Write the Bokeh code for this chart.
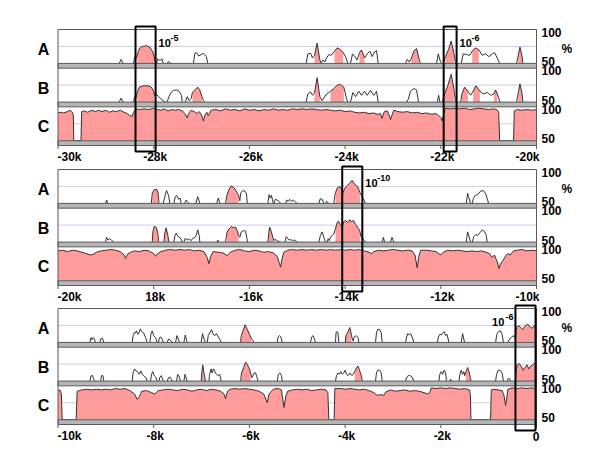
import math
from bokeh.plotting import figure
from bokeh.models import Range1d, Label
from bokeh.layouts import column
from bokeh.embed import file_html
from bokeh.resources import INLINE

# ---------------- data ----------------
TRACKS = ["A", "B", "C"]
PANEL_STARTS = [-30000, -20000, -10000]
PANEL_ENDS = [-20000, -10000, 0]

P1_TICKS = [-30000, -28000, -26000, -24000, -22000, -20000]
P1_TICK_LABELS = ["-30k", "-28k", "-26k", "-24k", "-22k", "-20k"]
P2_TICKS = [-20000, -18000, -16000, -14000, -12000, -10000]
P2_TICK_LABELS = ["-20k", "18k", "-16k", "-14k", "-12k", "-10k"]
P3_TICKS = [-10000, -8000, -6000, -4000, -2000, 0]
P3_TICK_LABELS = ["-10k", "-8k", "-6k", "-4k", "-2k", "0"]

SCALE_TOP = "100"
SCALE_BOTTOM = "50"
UNIT_LABEL = "%"

P1_BOX_START = [-28380, -21940]
P1_BOX_END = [-27960, -21670]
P1_BOX_EXP = ["-5", "-6"]
P2_BOX_START = [-14060]
P2_BOX_END = [-13640]
P2_BOX_EXP = ["-10"]
P3_BOX_START = [-440]
P3_BOX_END = [-20]
P3_BOX_EXP = ["-6"]

N = None
P1_A = [
    (-28720, 50), (-28680, 56), (-28640, 50), N,
    (-28420, 50), (-28400, 59), (-28370, 57), (-28345, 62), (-28300, 72), (-28240, 75), (-28150, 76), (-28080, 74), (-28020, 67), (-27983, 58), (-27960, 50), N,
    (-27940, 50), (-27910, 57), (-27870, 54), (-27830, 57), (-27800, 50), N,
    (-27720, 50), (-27690, 53), (-27650, 50), N,
    (-27170, 50), (-27140, 65), (-27100, 66), (-27060, 61), (-27010, 63), (-26960, 65), (-26900, 60), (-26870, 50), N,
    (-24814, 50), (-24779, 64), (-24723, 65), (-24681, 58), (-24639, 62), (-24584, 80), (-24528, 55), (-24500, 50), (-24465, 55), (-24423, 52), (-24388, 58), (-24340, 63), (-24291, 62), (-24221, 68), (-24165, 73), (-24110, 71), (-24040, 66), (-23991, 60), (-23943, 50), N,
    (-23887, 50), (-23845, 64), (-23796, 60), (-23748, 55), (-23699, 66), (-23657, 70), (-23594, 58), (-23539, 64), (-23483, 68), (-23434, 60), (-23385, 67), (-23343, 69), (-23308, 50), N,
    (-22737, 50), (-22702, 56), (-22660, 52), (-22619, 57), (-22563, 68), (-22507, 72), (-22452, 56), (-22424, 50), N,
    (-22088, 50), (-22053, 64), (-22005, 52), (-21970, 50), N,
    (-21950, 50), (-21901, 60), (-21831, 72), (-21783, 83), (-21727, 65), (-21692, 50), N,
    (-21574, 50), (-21532, 64), (-21463, 63), (-21393, 62), (-21344, 68), (-21274, 73), (-21205, 70), (-21135, 62), (-21065, 64), (-20995, 60), (-20925, 64), (-20876, 66), (-20820, 58), (-20771, 50), N,
    (-20416, 50), (-20381, 62), (-20346, 74), (-20305, 62), (-20284, 50),
]
P1_A_FILL = [(-28345, -27983), (-24639, -24528), (-24221, -24040), (-23699, -23594),
             (-22619, -22452), (-21901, -21727), (-21344, -21205), (-20381, -20305)]

P1_B = [
    (-28720, 50), (-28680, 56), (-28640, 50), N,
    (-28420, 50), (-28400, 58), (-28370, 56), (-28345, 64), (-28300, 72), (-28220, 74), (-28120, 74), (-28050, 72), (-28000, 66), (-27983, 60), (-27950, 62), (-27900, 58), (-27850, 55), (-27800, 52), (-27753, 50), N,
    (-27720, 50), (-27690, 56), (-27650, 63), (-27590, 67), (-27530, 68), (-27470, 66), (-27420, 60), (-27404, 50), N,
    (-27340, 50), (-27300, 58), (-27260, 52), (-27220, 55), (-27190, 64), (-27140, 68), (-27080, 72), (-27040, 68), (-26990, 58), (-26960, 52), (-26940, 50), N,
    (-24814, 50), (-24779, 62), (-24723, 65), (-24681, 60), (-24639, 64), (-24584, 86), (-24528, 58), (-24479, 52), (-24444, 56), (-24388, 62), (-24340, 64), (-24305, 66), (-24235, 70), (-24165, 75), (-24096, 76), (-24026, 72), (-23970, 55), (-23943, 50), N,
    (-23887, 50), (-23838, 64), (-23782, 58), (-23713, 66), (-23657, 60), (-23594, 66), (-23539, 60), (-23469, 67), (-23399, 60), (-23343, 66), (-23308, 50), N,
    (-22716, 50), (-22681, 54), (-22632, 66), (-22563, 70), (-22507, 68), (-22465, 50), N,
    (-22074, 50), (-22046, 60), (-22018, 50), N,
    (-21970, 50), (-21921, 62), (-21851, 75), (-21782, 91), (-21727, 70), (-21692, 50), N,
    (-21586, 50), (-21558, 62), (-21503, 72), (-21433, 66), (-21378, 60), (-21323, 66), (-21266, 74), (-21183, 66), (-21113, 62), (-21030, 64), (-20959, 60), (-20889, 62), (-20857, 68), (-20820, 62), (-20764, 50), N,
    (-20416, 50), (-20381, 64), (-20346, 77), (-20305, 64), (-20284, 50),
]
P1_B_FILL = [(-28345, -27983), (-27190, -26990), (-24639, -24528), (-24305, -24026),
             (-21921, -21727), (-21558, -21433), (-21323, -21183), (-20889, -20820), (-20381, -20305)]

P1_C = [
    (-30000, 91), (-29950, 92), (-29880, 91), (-29800, 93), (-29740, 95), (-29700, 92), (-29680, 88), (-29670, 50),
    (-29520, 50), (-29505, 93), (-29450, 94), (-29380, 92), (-29300, 95), (-29220, 93), (-29150, 95), (-29080, 93),
    (-29000, 95), (-28930, 92), (-28850, 94), (-28780, 93), (-28700, 95), (-28620, 92), (-28550, 90), (-28500, 87),
    (-28450, 86), (-28420, 92), (-28380, 97), (-28300, 96), (-28200, 97), (-28100, 96), (-28000, 98), (-27920, 96),
    (-27850, 95), (-27780, 97), (-27700, 94), (-27620, 96), (-27550, 95), (-27480, 96), (-27400, 94), (-27350, 90),
    (-27300, 84), (-27270, 90), (-27220, 95), (-27150, 93), (-27100, 90), (-27050, 93), (-27000, 88), (-26960, 79),
    (-26930, 88), (-26890, 92), (-26860, 87), (-26800, 95), (-26700, 96), (-26600, 94), (-26500, 97), (-26400, 95),
    (-26300, 96), (-26200, 94), (-26100, 97), (-26000, 95), (-25900, 96), (-25800, 94), (-25700, 96), (-25600, 95),
    (-25500, 97), (-25400, 95), (-25300, 96), (-25200, 95), (-25100, 97), (-25000, 96), (-24900, 97), (-24800, 96),
    (-24700, 97), (-24600, 96), (-24500, 95), (-24400, 96), (-24300, 95), (-24200, 94), (-24100, 95), (-24000, 93),
    (-23900, 94), (-23800, 92), (-23700, 91), (-23600, 92), (-23500, 90), (-23400, 91), (-23330, 89), (-23260, 90),
    (-23230, 83), (-23180, 93), (-23120, 94), (-23080, 88), (-23050, 81), (-23010, 90), (-22980, 95), (-22900, 93),
    (-22800, 92), (-22700, 93), (-22600, 91), (-22500, 92), (-22400, 90), (-22300, 91), (-22200, 89), (-22100, 90),
    (-22040, 87), (-22000, 84), (-21970, 79), (-21940, 90), (-21900, 98), (-21800, 97), (-21700, 98), (-21600, 97),
    (-21500, 98), (-21400, 96), (-21300, 97), (-21200, 98), (-21100, 97), (-21000, 96), (-20900, 97), (-20830, 96),
    (-20790, 92), (-20770, 50), (-20480, 50), (-20465, 94), (-20400, 96), (-20300, 95), (-20200, 96), (-20100, 95),
    (-20000, 96),
]

P2_A = [
    (-19007, 50), (-18983, 55), (-18958, 50), N,
    (-18050, 50), (-18030, 65), (-17990, 70), (-17940, 71), (-17910, 66), (-17890, 50), N,
    (-17801, 50), (-17760, 62), (-17732, 69), (-17690, 62), (-17662, 50), N,
    (-17578, 50), (-17550, 60), (-17522, 62), (-17480, 56), (-17450, 58), (-17425, 50), N,
    (-17355, 50), (-17320, 55), (-17290, 52), (-17257, 50), N,
    (-17118, 50), (-17080, 60), (-17035, 50), N,
    (-16686, 50), (-16650, 58), (-16616, 50), N,
    (-16500, 50), (-16470, 62), (-16430, 70), (-16380, 76), (-16340, 74), (-16300, 71), (-16260, 66), (-16225, 62), (-16200, 54), (-16180, 66), (-16130, 69), (-16090, 68), (-16060, 64), (-16045, 50), N,
    (-15613, 50), (-15590, 63), (-15565, 58), (-15540, 62), (-15501, 50), N,
    (-15487, 50), (-15460, 56), (-15420, 55), (-15380, 53), (-15348, 50), N,
    (-15243, 50), (-15220, 55), (-15190, 53), (-15160, 56), (-15120, 53), (-15080, 55), (-15040, 52), (-14999, 50), N,
    (-14549, 50), (-14520, 57), (-14480, 56), (-14444, 50), N,
    (-14409, 50), (-14390, 53), (-14340, 50), N,
    (-14235, 50), (-14215, 62), (-14200, 66), (-14160, 73), (-14110, 75), (-14065, 70), (-14040, 66), (-14010, 72), (-13960, 76), (-13900, 80), (-13852, 84), (-13800, 78), (-13740, 75), (-13690, 66), (-13660, 62), (-13620, 57), (-13573, 50), N,
    (-11468, 50), (-11440, 65), (-11420, 60), (-11377, 50), N,
    (-11343, 50), (-11320, 57), (-11280, 62), (-11230, 63), (-11170, 68), (-11110, 69), (-11060, 64), (-11000, 50),
]
P2_A_FILL = [(-18030, -17910), (-16470, -16225), (-14200, -13690)]

P2_B = [
    (-19007, 50), (-18985, 57), (-18955, 53), (-18920, 55), (-18880, 53), (-18840, 50), N,
    (-18031, 50), (-18015, 66), (-17990, 73), (-17950, 72), (-17915, 64), (-17895, 50), N,
    (-17787, 50), (-17770, 62), (-17740, 71), (-17705, 60), (-17683, 50), N,
    (-17578, 50), (-17555, 60), (-17530, 63), (-17490, 58), (-17440, 56), (-17404, 50), N,
    (-17370, 50), (-17340, 56), (-17300, 53), (-17260, 55), (-17220, 52), (-17190, 55), (-17140, 57), (-17111, 60), (-17080, 68), (-17050, 60), (-17035, 50), N,
    (-16680, 50), (-16660, 53), (-16640, 50), N,
    (-16500, 50), (-16470, 64), (-16420, 70), (-16380, 73), (-16330, 71), (-16290, 72), (-16250, 66), (-16225, 60), (-16200, 57), (-16170, 65), (-16120, 67), (-16080, 66), (-16050, 55), (-16040, 50), N,
    (-15613, 50), (-15595, 64), (-15575, 72), (-15545, 66), (-15505, 56), (-15490, 52), (-15460, 54), (-15420, 52), (-15348, 50), N,
    (-15257, 50), (-15230, 58), (-15200, 55), (-15170, 53), (-15140, 54), (-15100, 52), (-15060, 53), (-15000, 50), N,
    (-14549, 50), (-14515, 60), (-14480, 65), (-14440, 56), (-14409, 50), N,
    (-14375, 50), (-14355, 55), (-14330, 52), (-14300, 58), (-14265, 60), (-14235, 62), (-14200, 70), (-14170, 78), (-14140, 81), (-14100, 76), (-14060, 72), (-14030, 80), (-13990, 82), (-13950, 79), (-13900, 83), (-13870, 80), (-13830, 82), (-13780, 76), (-13720, 70), (-13690, 66), (-13670, 58), (-13640, 56), (-13610, 53), (-13573, 50), N,
    (-13224, 50), (-13200, 57), (-13175, 50), N,
    (-13050, 50), (-13020, 57), (-12980, 50), N,
    (-11468, 50), (-11440, 65), (-11410, 58), (-11377, 50), N,
    (-11343, 50), (-11310, 58), (-11270, 61), (-11230, 60), (-11180, 64), (-11130, 68), (-11090, 66), (-11050, 60), (-11030, 50),
]
P2_B_FILL = [(-18015, -17915), (-17770, -17705), (-16470, -16225), (-15595, -15505), (-14200, -13690)]

P2_C = [
    (-20000, 94), (-19900, 95), (-19800, 93), (-19700, 95), (-19600, 94), (-19500, 92), (-19400, 90), (-19330, 88),
    (-19260, 89), (-19200, 92), (-19100, 94), (-19000, 95), (-18900, 96), (-18800, 95), (-18700, 93), (-18620, 88),
    (-18590, 83), (-18550, 89), (-18480, 92), (-18400, 94), (-18300, 93), (-18200, 95), (-18100, 94), (-18000, 90),
    (-17960, 86), (-17920, 90), (-17850, 93), (-17750, 95), (-17650, 96), (-17550, 95), (-17450, 96), (-17350, 95),
    (-17250, 96), (-17150, 94), (-17050, 95), (-16950, 93), (-16880, 84), (-16846, 75), (-16810, 86), (-16760, 93),
    (-16650, 92), (-16550, 91), (-16463, 87), (-16400, 92), (-16300, 95), (-16200, 96), (-16100, 94), (-16000, 93),
    (-15900, 95), (-15800, 94), (-15700, 92), (-15600, 93), (-15500, 91), (-15420, 86), (-15370, 75), (-15348, 70),
    (-15320, 82), (-15280, 92), (-15200, 95), (-15100, 96), (-15000, 95), (-14900, 96), (-14800, 95), (-14700, 96),
    (-14600, 95), (-14500, 96), (-14400, 95), (-14300, 96), (-14200, 95), (-14100, 96), (-14000, 95), (-13900, 96),
    (-13800, 95), (-13700, 96), (-13600, 94), (-13500, 92), (-13450, 90), (-13400, 93), (-13300, 95), (-13200, 94),
    (-13100, 95), (-13000, 96), (-12900, 95), (-12800, 94), (-12700, 95), (-12600, 94), (-12540, 88), (-12493, 69),
    (-12460, 86), (-12420, 95), (-12300, 95), (-12200, 94), (-12100, 93), (-12005, 88), (-11950, 92), (-11850, 95),
    (-11750, 94), (-11650, 95), (-11550, 94), (-11450, 93), (-11350, 94), (-11250, 93), (-11150, 94), (-11050, 92),
    (-10980, 90), (-10924, 84), (-10880, 88), (-10820, 78), (-10785, 68), (-10750, 75), (-10700, 80), (-10650, 86),
    (-10600, 90), (-10550, 88), (-10480, 94), (-10400, 95), (-10300, 96), (-10200, 94), (-10100, 95), (-10000, 94),
]

P3_A = [
    (-9335, 50), (-9310, 57), (-9290, 54), (-9265, 57), (-9240, 55), (-9216, 50), N,
    (-9126, 50), (-9100, 56), (-9070, 56), (-9042, 50), N,
    (-8449, 50), (-8430, 60), (-8400, 65), (-8380, 64), (-8360, 67), (-8330, 62), (-8300, 65), (-8280, 70), (-8250, 66), (-8210, 64), (-8170, 57), (-8136, 50), N,
    (-8080, 50), (-8060, 62), (-8030, 67), (-8000, 60), (-7960, 57), (-7927, 50), N,
    (-7900, 50), (-7880, 57), (-7850, 58), (-7820, 54), (-7800, 50), N,
    (-7717, 50), (-7690, 55), (-7660, 54), (-7613, 50), N,
    (-7543, 50), (-7515, 60), (-7460, 50), N,
    (-7369, 50), (-7340, 61), (-7300, 50), N,
    (-7007, 50), (-6980, 63), (-6950, 55), (-6916, 50), N,
    (-6881, 50), (-6860, 60), (-6830, 64), (-6790, 69), (-6760, 62), (-6720, 60), (-6690, 63), (-6650, 58), (-6620, 55), (-6588, 50), N,
    (-6184, 50), (-6170, 60), (-6130, 68), (-6090, 76), (-6050, 70), (-6000, 62), (-5960, 56), (-5930, 53), (-5905, 50), N,
    (-5417, 50), (-5400, 58), (-5370, 60), (-5340, 58), (-5313, 50), N,
    (-4723, 50), (-4700, 58), (-4670, 60), (-4640, 55), (-4618, 50), N,
    (-4200, 50), (-4190, 64), (-4170, 66), (-4150, 64), (-4130, 50), N,
    (-3995, 50), (-3985, 60), (-3950, 64), (-3900, 72), (-3870, 62), (-3850, 55), (-3830, 52), (-3810, 58), (-3770, 60), (-3730, 57), (-3712, 50), N,
    (-3364, 50), (-3345, 64), (-3320, 69), (-3280, 69), (-3245, 64), (-3224, 50), N,
    (-2736, 50), (-2715, 58), (-2690, 63), (-2660, 61), (-2630, 63), (-2600, 58), (-2562, 50), N,
    (-2074, 50), (-2050, 58), (-2020, 62), (-1990, 61), (-1960, 64), (-1930, 66), (-1900, 60), (-1870, 62), (-1830, 50), N,
    (-1572, 50), (-1545, 63), (-1503, 50), N,
    (-854, 50), (-830, 62), (-790, 66), (-752, 67), (-720, 62), (-690, 50), N,
    (-600, 50), (-560, 55), (-520, 58), (-470, 60), (-440, 55), (-430, 68), (-417, 72), (-380, 75), (-330, 72), (-290, 69), (-240, 74), (-180, 77), (-130, 72), (-90, 71), (-40, 75), (0, 74),
]
P3_A_FILL = [(-6170, -5960), (-3985, -3870), (-430, 0)]

P3_B = [
    (-9335, 50), (-9310, 58), (-9280, 58), (-9250, 52), (-9216, 50), N,
    (-9110, 50), (-9090, 58), (-9060, 58), (-9042, 50), N,
    (-8449, 50), (-8430, 62), (-8400, 68), (-8370, 65), (-8340, 64), (-8300, 60), (-8270, 65), (-8240, 60), (-8200, 57), (-8160, 55), (-8136, 50), N,
    (-8066, 50), (-8045, 60), (-8020, 64), (-7990, 58), (-7960, 56), (-7927, 50), N,
    (-7892, 50), (-7870, 56), (-7840, 58), (-7800, 50), N,
    (-7717, 50), (-7690, 55), (-7660, 56), (-7613, 50), N,
    (-7522, 50), (-7500, 60), (-7475, 58), (-7440, 50), N,
    (-7369, 50), (-7345, 60), (-7300, 50), N,
    (-7007, 50), (-6995, 62), (-6975, 74), (-6950, 62), (-6930, 55), (-6916, 50), N,
    (-6847, 50), (-6830, 60), (-6800, 68), (-6780, 62), (-6750, 68), (-6720, 64), (-6690, 60), (-6660, 58), (-6620, 60), (-6588, 50), N,
    (-6184, 50), (-6165, 62), (-6120, 70), (-6080, 78), (-6040, 74), (-6000, 68), (-5975, 62), (-5950, 55), (-5930, 58), (-5900, 62), (-5870, 62), (-5840, 55), (-5820, 50), N,
    (-5417, 50), (-5395, 60), (-5360, 62), (-5330, 58), (-5313, 50), N,
    (-4200, 50), (-4180, 58), (-4150, 62), (-4120, 60), (-4090, 64), (-4060, 60), (-4030, 62), (-4000, 66), (-3970, 60), (-3940, 58), (-3900, 62), (-3860, 58), (-3830, 60), (-3800, 64), (-3760, 70), (-3730, 72), (-3700, 66), (-3660, 58), (-3640, 50), N,
    (-3364, 50), (-3345, 62), (-3320, 66), (-3280, 66), (-3245, 62), (-3224, 50), N,
    (-2736, 50), (-2710, 56), (-2680, 58), (-2640, 58), (-2600, 56), (-2562, 50), N,
    (-2040, 50), (-2020, 60), (-1990, 64), (-1960, 60), (-1930, 66), (-1900, 62), (-1880, 50), N,
    (-1810, 50), (-1795, 53), (-1780, 50), N,
    (-1621, 50), (-1600, 60), (-1575, 66), (-1545, 60), (-1520, 64), (-1500, 58), (-1480, 62), (-1440, 70), (-1410, 64), (-1380, 55), (-1370, 50), N,
    (-854, 50), (-835, 60), (-800, 66), (-760, 66), (-720, 62), (-690, 50), N,
    (-610, 50), (-590, 54), (-560, 53), (-540, 50), N,
    (-440, 50), (-425, 66), (-400, 74), (-360, 76), (-320, 72), (-280, 66), (-240, 70), (-200, 74), (-160, 68), (-120, 72), (-80, 74), (-40, 76), (0, 78),
]
P3_B_FILL = [(-6995, -6930), (-6165, -5975), (-3800, -3660), (-1480, -1380), (-425, 0)]

P3_C = [
    (-10000, 93), (-9960, 94), (-9930, 88), (-9912, 50), (-9620, 50), (-9600, 92), (-9500, 94), (-9400, 95),
    (-9300, 94), (-9200, 95), (-9100, 94), (-9000, 95), (-8900, 94), (-8800, 96), (-8700, 95), (-8600, 96),
    (-8500, 93), (-8400, 88), (-8345, 80), (-8300, 84), (-8250, 92), (-8150, 93), (-8050, 90), (-7980, 88),
    (-7900, 93), (-7800, 94), (-7700, 95), (-7600, 94), (-7500, 93), (-7400, 95), (-7300, 94), (-7200, 92),
    (-7100, 94), (-7000, 95), (-6900, 93), (-6800, 95), (-6700, 94), (-6600, 92), (-6530, 88), (-6498, 81),
    (-6460, 92), (-6400, 95), (-6300, 96), (-6200, 95), (-6100, 96), (-6000, 95), (-5900, 94), (-5800, 92),
    (-5700, 88), (-5626, 75), (-5590, 88), (-5500, 95), (-5400, 96), (-5330, 94), (-5278, 68), (-5240, 85),
    (-5200, 92), (-5100, 94), (-5000, 95), (-4900, 94), (-4800, 95), (-4700, 93), (-4600, 94), (-4500, 95),
    (-4400, 94), (-4360, 90), (-4340, 50), (-4230, 50), (-4214, 96), (-4100, 96), (-4000, 95), (-3900, 96),
    (-3800, 95), (-3700, 94), (-3600, 95), (-3500, 93), (-3400, 90), (-3330, 86), (-3250, 87), (-3190, 86),
    (-3150, 91), (-3050, 94), (-2950, 92), (-2850, 93), (-2750, 94), (-2650, 92), (-2550, 93), (-2450, 92),
    (-2350, 90), (-2283, 88), (-2230, 90), (-2200, 97), (-2100, 96), (-2000, 97), (-1900, 96), (-1800, 97),
    (-1700, 96), (-1600, 95), (-1500, 96), (-1400, 94), (-1380, 85), (-1370, 50), (-960, 50), (-945, 94),
    (-900, 95), (-800, 94), (-720, 93), (-680, 86), (-645, 71), (-620, 82), (-600, 95), (-500, 97),
    (-400, 96), (-300, 97), (-200, 96), (-100, 97), (0, 96),
]

# ---------------- styles / layout ----------------
PINK = "#ff9b9b"
LINE = "#333333"
GRID = "#cdcde6"
BAR_FILL = "#b6b6b6"
BAR_LINE = "#5a5a5a"
BORDER = "#5a5a5a"
FONT = "Liberation Sans"

W = 592
LEFT_PX = 57.5          # canvas px of the panel's left edge
PANEL_W = 478.5         # panel width in px
PANEL_H = 116
TRACK_U = 50.0
BAR_U = 7.0
TOTAL_U = 3 * TRACK_U + 3 * BAR_U
U = TOTAL_U / PANEL_H   # data units per pixel (vertical)
FIG_H = [164, 139, 139]
FIG_TOP = [29, 5, 5]    # px above panel top
NAN = float("nan")


def split(points):
    xs = [NAN if q is None else q[0] for q in points]
    ys = [NAN if q is None else q[1] for q in points]
    return xs, ys


def fill_polys(points, intervals):
    pxs, pys = [], []
    for a, b in intervals:
        sel = [q for q in points if q is not None and a <= q[0] <= b]
        pxs.append([a] + [q[0] for q in sel] + [b])
        pys.append([50] + [q[1] for q in sel] + [50])
    return pxs, pys


def lab(p, **kw):
    base = dict(text_font=FONT, text_font_style="bold", text_color="black")
    base.update(kw)
    p.add_layout(Label(**base))


def make_panel(i, track_data, track_fills, ticks, tick_labels, box_s, box_e, box_exp):
    x0, x1 = PANEL_STARTS[i], PANEL_ENDS[i]
    bpp = (x1 - x0) / PANEL_W
    h = FIG_H[i]
    top_px = FIG_TOP[i]
    bot_px = h - top_px - PANEL_H
    y_lo = -bot_px * U
    y_hi = TOTAL_U + top_px * U
    p = figure(width=W, height=h,
               x_range=Range1d(x0 - LEFT_PX * bpp, x1 + (W - LEFT_PX - PANEL_W) * bpp),
               y_range=Range1d(y_lo, y_hi),
               min_border=0, min_border_left=0, min_border_right=0,
               min_border_top=0, min_border_bottom=0,
               output_backend="svg", toolbar_location=None,
               x_axis_location=None, y_axis_location=None)
    p.outline_line_color = None
    p.grid.visible = False
    p.background_fill_color = "white"
    p.border_fill_color = "white"

    ranges = {}
    for k, name in enumerate(TRACKS):
        off = TOTAL_U - TRACK_U - 50 - k * (TRACK_U + BAR_U)
        ranges[name] = Range1d(y_lo - off, y_hi - off)
    p.extra_y_ranges = ranges

    for k, name in enumerate(TRACKS):
        p.segment(x0=[x0], y0=[75], x1=[x1], y1=[75], y_range_name=name,
                  line_color=GRID, line_width=1)
        pts = track_data[k]
        xs, ys = split(pts)
        if name == "C":
            p.varea(x=xs, y1=[50] * len(xs), y2=ys, y_range_name=name, fill_color=PINK)
        else:
            pxs, pys = fill_polys(pts, track_fills[k])
            p.patches(xs=pxs, ys=pys, y_range_name=name, fill_color=PINK, line_color=None)
        p.line(xs, ys, y_range_name=name, line_color=LINE, line_width=1)

    for name in TRACKS:
        p.quad(left=[x0], right=[x1], bottom=[50 - BAR_U], top=[50], y_range_name=name,
               fill_color=BAR_FILL, line_color=BAR_LINE, line_width=1)

    # panel border
    p.line(x=[x0, x0, x1, x1], y=[0, TOTAL_U, TOTAL_U, 0], line_color=BORDER, line_width=1)
    # small tick marks under the bottom bar
    p.segment(x0=ticks, y0=[0] * len(ticks), x1=ticks, y1=[-3.5 * U] * len(ticks),
              line_color=BORDER, line_width=1)

    # x tick labels
    for j, (t, l) in enumerate(zip(ticks, tick_labels)):
        if j == 0:
            align, dx = "left", -0.5
        elif j == len(ticks) - 1:
            align, dx = "right", 3
        else:
            align, dx = "center", 1.5
        lab(p, x=t, y=-11.5 * U, x_offset=dx, text=l, text_align=align,
            text_baseline="middle", text_font_size="12px")

    # highlight boxes
    p.quad(left=box_s, right=box_e, bottom=[-6 * U] * len(box_s),
           top=[TOTAL_U + 3 * U] * len(box_s), fill_color=None, line_color="black", line_width=2)
    for bs, be, ex in zip(box_s, box_e, box_exp):
        if be > x1 - (x1 - x0) * 0.05:
            lab(p, x=bs, y=TOTAL_U - 8 * U, x_offset=-2, text=ex, text_align="right",
                text_baseline="alphabetic", text_font_size="9px")
            lab(p, x=bs, y=TOTAL_U - 13.5 * U, x_offset=-2 - 4.8 * len(ex) + 0.5, text="10",
                text_align="right", text_baseline="alphabetic", text_font_size="11px")
        else:
            lab(p, x=be, y=TOTAL_U - 13.5 * U, x_offset=3, text="10", text_align="left",
                text_baseline="alphabetic", text_font_size="11px")
            lab(p, x=be, y=TOTAL_U - 8 * U, x_offset=15, text=ex, text_align="left",
                text_baseline="alphabetic", text_font_size="9px")

    # right-hand scale labels, left-hand track names
    for k, name in enumerate(TRACKS):
        lab(p, x=x1, y=100 - 2.5 * U, y_range_name=name, x_offset=5, text=SCALE_TOP,
            text_baseline="middle", text_font_size="12px")
        lab(p, x=x1, y=50 + 1.8 * U, y_range_name=name, x_offset=5, text=SCALE_BOTTOM,
            text_baseline="middle", text_font_size="12px")
        lab(p, x=x0, y=75 - 3 * U, y_range_name=name, x_offset=-14.5, text=name,
            text_align="center", text_baseline="middle", text_font_size="16px")
    lab(p, x=x1, y=75 - 3 * U, y_range_name="A", x_offset=25, text=UNIT_LABEL,
        text_baseline="middle", text_font_size="12px")
    return p


p1 = make_panel(0, [P1_A, P1_B, P1_C], [P1_A_FILL, P1_B_FILL, None],
                P1_TICKS, P1_TICK_LABELS, P1_BOX_START, P1_BOX_END, P1_BOX_EXP)
p2 = make_panel(1, [P2_A, P2_B, P2_C], [P2_A_FILL, P2_B_FILL, None],
                P2_TICKS, P2_TICK_LABELS, P2_BOX_START, P2_BOX_END, P2_BOX_EXP)
p3 = make_panel(2, [P3_A, P3_B, P3_C], [P3_A_FILL, P3_B_FILL, None],
                P3_TICKS, P3_TICK_LABELS, P3_BOX_START, P3_BOX_END, P3_BOX_EXP)

layout = column(p1, p2, p3)
open("out.html", "w").write(file_html(layout, INLINE, title="conservation"))
